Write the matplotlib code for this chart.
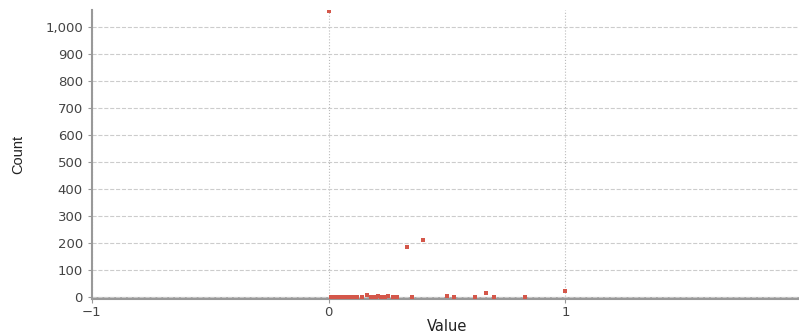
import matplotlib.pyplot as plt

# values
values = [0.0, 0.01, 0.02, 0.03, 0.04, 0.05, 0.06, 0.07, 0.08, 0.09, 0.10,
          0.11, 0.12, 0.14, 0.16, 0.18, 0.19, 0.20, 0.21, 0.22, 0.24, 0.25,
          0.27, 0.29, 0.33, 0.35, 0.40, 0.50, 0.53, 0.62, 0.665, 0.70, 0.83, 1.0]
counts = [1060, 1, 1, 1, 1, 1, 1, 1, 1, 1, 1,
          1, 1, 1, 8, 1, 1, 2, 3, 1, 2, 6,
          1, 1, 185, 1, 211, 6, 1, 1, 17, 2, 1, 25]
x_ticks = [-1, 0, 1, 2]
y_ticks = list(range(0, 1001, 100))

fig = plt.figure(figsize=(7.99, 3.35), dpi=100)
ax = fig.add_axes([0.115, 0.107, 0.889, 0.863])

ax.scatter(values, counts, marker='s', s=5, color='#d4574a', zorder=3, linewidths=0)

ax.set_xlim(-1, 2)
ax.set_ylim(-7, 1063)
ax.set_xticks(x_ticks)
ax.set_yticks(y_ticks)
ax.set_yticklabels([f'{v:,}' for v in y_ticks])

ax.grid(axis='y', color='#cccccc', linestyle='--', linewidth=0.8)
ax.grid(axis='x', color='#bbbbbb', linestyle=':', linewidth=0.8)

for side in ['top', 'right']:
    ax.spines[side].set_visible(False)
ax.spines['left'].set_color('#999999')
ax.spines['left'].set_linewidth(1.5)
ax.spines['bottom'].set_color('#999999')
ax.spines['bottom'].set_linewidth(1.5)
ax.axhline(0, color='#aaaaaa', linewidth=0.8, zorder=1)

ax.tick_params(axis='both', colors='#999999', labelcolor='#444444',
               labelsize=9.5, length=3)
ax.tick_params(axis='x', pad=2)
ax.set_xlabel('Value', fontsize=10.5, color='#222222', labelpad=0)
ax.set_ylabel('Count', fontsize=10.5, color='#222222', family='Liberation Sans',
              labelpad=14)

fig.savefig('out.png', dpi=100)
